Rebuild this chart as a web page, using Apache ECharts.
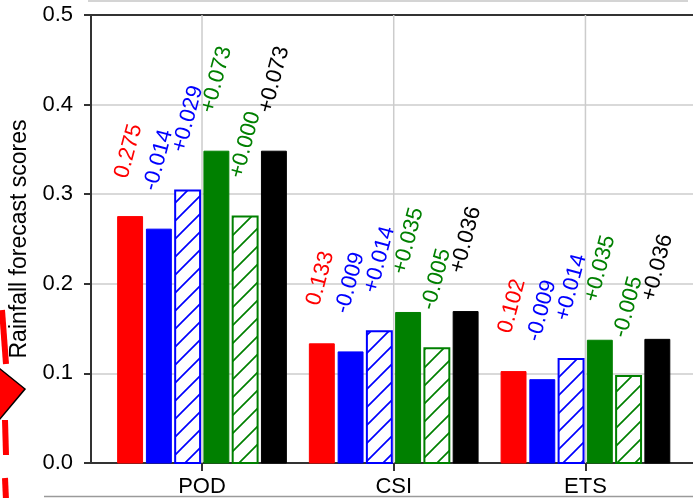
<!DOCTYPE html>
<html>
<head>
<meta charset="utf-8">
<script src="https://cdn.jsdelivr.net/npm/echarts@6/dist/echarts.min.js"></script>
<style>
  html, body { margin: 0; padding: 0; background: #fff; }
  #chart { width: 693px; height: 498px; }
</style>
</head>
<body>
<div id="chart"></div>
<script>
// Score categories on the x axis
const categories = ['POD', 'CSI', 'ETS'];
// Y axis ticks
const yTicks = [0, 0.1, 0.2, 0.3, 0.4, 0.5];

// Control run scores (labelled with absolute value)
const ctlScores = [0.275, 0.133, 0.102];
// Score changes of each experiment relative to the control run
const deltaBlue = [-0.014, -0.009, -0.009];
const deltaBlueHatch = [0.029, 0.014, 0.014];
const deltaGreen = [0.073, 0.035, 0.035];
const deltaGreenHatch = [0.000, -0.005, -0.005];
const deltaBlack = [0.073, 0.036, 0.036];

const FONT = '"Liberation Sans", Arial, Helvetica, sans-serif';
const PITCH = 0.15;   // distance between neighbouring bars (x units)
const BAR_W = 0.13;   // bar width (x units)
const LABEL_GAP = 36; // px between bar top and its rotated label
const GRID_COLOR = '#cccccc';

// Diagonal "//" hatch tile
function hatchTile(color) {
  const s = 18;
  const c = document.createElement('canvas');
  c.width = s; c.height = s;
  const g = c.getContext('2d');
  g.fillStyle = '#fff';
  g.fillRect(0, 0, s, s);
  g.strokeStyle = color;
  g.lineWidth = 1.7;
  g.beginPath();
  g.moveTo(-2, s + 2); g.lineTo(s + 2, -2);
  g.moveTo(-s / 2 - 2, s / 2 + 2); g.lineTo(s / 2 + 2, -s / 2 - 2);
  g.moveTo(s / 2 - 2, s * 1.5 + 2); g.lineTo(s * 1.5 + 2, s / 2 - 2);
  g.stroke();
  return c;
}

const fmtDelta = d => (d < 0 ? '-' : '+') + Math.abs(d).toFixed(3);

const groups = [
  { name: 'CTL',   color: '#ff0000', hatch: false, deltas: null },
  { name: 'EXP1',  color: '#0000ff', hatch: false, deltas: deltaBlue },
  { name: 'EXP1H', color: '#0000ff', hatch: true,  deltas: deltaBlueHatch },
  { name: 'EXP2',  color: '#008000', hatch: false, deltas: deltaGreen },
  { name: 'EXP2H', color: '#008000', hatch: true,  deltas: deltaGreenHatch },
  { name: 'EXP3',  color: '#000000', hatch: false, deltas: deltaBlack }
];

const barSeries = groups.map((grp, i) => {
  const values = ctlScores.map((b, k) => grp.deltas ? +(b + grp.deltas[k]).toFixed(3) : b);
  const labels = ctlScores.map((b, k) => grp.deltas ? fmtDelta(grp.deltas[k]) : b.toFixed(3));
  const fill = grp.hatch ? { image: hatchTile(grp.color), repeat: 'repeat' } : grp.color;
  return {
    name: grp.name,
    type: 'custom',
    z: 3,
    data: values.map((v, k) => [k, v]),
    encode: { x: 0, y: 1 },
    renderItem: (params, api) => {
      const cat = api.value(0);
      const xv = cat + (i - 2.5) * PITCH;
      const base = api.coord([xv, 0]);
      const top = api.coord([xv, api.value(1)]);
      const w = api.size([BAR_W, 0])[0];
      const children = [];
      if (i === 0) {
        // vertical grid line through the category centre
        const g0 = api.coord([cat, yTicks[0]]);
        const g1 = api.coord([cat, yTicks[yTicks.length - 1]]);
        children.push({
          type: 'line',
          shape: { x1: g0[0], y1: g0[1], x2: g1[0], y2: g1[1] },
          style: { stroke: GRID_COLOR, lineWidth: 1.5 }
        });
      }
      children.push(
        {
          type: 'rect',
          shape: { x: base[0] - w / 2, y: top[1], width: w, height: base[1] - top[1] },
          style: {
            fill: fill,
            stroke: grp.color,
            lineWidth: grp.hatch ? 2 : 1
          }
        },
        {
          type: 'text',
          x: base[0] + 2,
          y: top[1] - LABEL_GAP,
          rotation: 75 * Math.PI / 180,
          style: {
            text: labels[params.dataIndex],
            fill: grp.color,
            fontSize: 22,
            fontFamily: FONT,
            align: 'left',
            verticalAlign: 'bottom'
          }
        }
      );
      return { type: 'group', children: children };
    }
  };
});

const X_MIN = -0.579, X_MAX = 2.561;

const chart = echarts.init(document.getElementById('chart'), null, { renderer: 'canvas' });
chart.setOption({
  animation: false,
  backgroundColor: '#fff',
  grid: { left: 91, right: 0, top: 15, bottom: 35, containLabel: false },
  xAxis: [
    {
      type: 'value', min: X_MIN, max: X_MAX, position: 'bottom',
      axisLine: { show: true, onZero: false, lineStyle: { color: '#333', width: 2 } },
      axisTick: { show: true, customValues: [0, 1, 2], length: 8, lineStyle: { color: '#333', width: 2 } },
      axisLabel: {
        customValues: [0, 1, 2],
        formatter: v => categories[Math.round(v)],
        fontSize: 22, fontFamily: FONT, color: '#000', margin: 13
      },
      splitLine: { show: false }
    },
    {
      // top frame line
      type: 'value', min: X_MIN, max: X_MAX, position: 'top',
      axisLine: { show: true, onZero: false, lineStyle: { color: '#333', width: 2 } },
      axisTick: { show: false }, axisLabel: { show: false }, splitLine: { show: false }
    }
  ],
  yAxis: {
    type: 'value', min: yTicks[0], max: yTicks[yTicks.length - 1], interval: 0.1,
    name: 'Rainfall forecast scores',
    nameLocation: 'middle', nameGap: 57, nameRotate: 90,
    nameTextStyle: { fontSize: 23, fontFamily: FONT, color: '#000' },
    axisLine: { show: true, onZero: false, lineStyle: { color: '#333', width: 2 } },
    axisTick: { show: true, length: 7, lineStyle: { color: '#333', width: 2 } },
    axisLabel: { formatter: v => v.toFixed(1), fontSize: 22, fontFamily: FONT, color: '#000', margin: 18 },
    splitLine: { show: true, lineStyle: { color: GRID_COLOR, width: 1.5 } }
  },
  graphic: [
    // frame lines at the picture edges
    { type: 'line', shape: { x1: 88, y1: 1, x2: 688, y2: 1 }, style: { stroke: '#d4d4d4', lineWidth: 2 } },
    { type: 'line', shape: { x1: 44, y1: 496.5, x2: 693, y2: 496.5 }, style: { stroke: '#9a9a9a', lineWidth: 1.5 } },
    // red dashed arrow at the left margin
    { type: 'line', shape: { x1: 2, y1: 310, x2: 6, y2: 364 }, style: { stroke: '#ff0000', lineWidth: 6 } },
    { type: 'line', shape: { x1: 5, y1: 420, x2: 6, y2: 455 }, style: { stroke: '#ff0000', lineWidth: 6 } },
    { type: 'line', shape: { x1: 5, y1: 478, x2: 6, y2: 500 }, style: { stroke: '#ff0000', lineWidth: 6 } },
    {
      type: 'polygon',
      shape: { points: [[-6, 364], [25, 389], [-6, 426]] },
      style: { fill: '#ff0000', stroke: '#000', lineWidth: 1.5 }
    }
  ],
  series: barSeries
});
</script>
</body>
</html>
